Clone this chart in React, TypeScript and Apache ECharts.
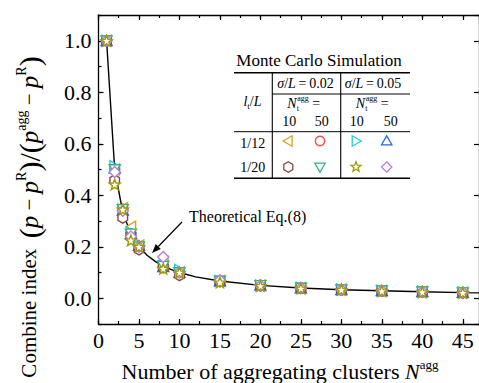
import React, { useEffect, useRef } from "react";
import * as echarts from "echarts";

const SERIF = '"Liberation Serif", "Times New Roman", Times, serif';

// ---- axes ----
const xMin = 0;
const xMax = 47;
const xMajor = 5;
const xMinor = 2.5;
const yMin = -0.1;
const yMax = 1.1;
const yMinor = 0.1;

// ---- data ----
const clusterCounts = [1, 2, 3, 4, 5, 8, 10, 15, 20, 25, 30, 35, 40, 45];
const theoryCounts = [1, 2, 3, 4, 5, 6, 7, 8, 9, 10, 12, 15, 20, 25, 30, 35, 40, 45, 47];
const theoryIndex = [1.0, 0.5, 0.333, 0.25, 0.2, 0.167, 0.143, 0.125, 0.111, 0.1, 0.083, 0.067, 0.05, 0.04, 0.033, 0.029, 0.025, 0.022, 0.021];

const l12s002n10 = [1.0, 0.5, 0.35, 0.278, 0.205, 0.142, 0.1, 0.067, 0.05, 0.04, 0.034, 0.029, 0.025, 0.022];
const l12s002n50 = [1.0, 0.5, 0.345, 0.25, 0.2, 0.125, 0.1, 0.067, 0.05, 0.04, 0.033, 0.029, 0.025, 0.022];
const l12s005n10 = [1.0, 0.513, 0.345, 0.255, 0.21, 0.125, 0.11, 0.067, 0.05, 0.041, 0.034, 0.029, 0.026, 0.023];
const l12s005n50 = [1.0, 0.505, 0.342, 0.25, 0.205, 0.122, 0.1, 0.067, 0.05, 0.04, 0.033, 0.029, 0.025, 0.022];
const l20s002n10 = [1.0, 0.458, 0.313, 0.245, 0.19, 0.12, 0.09, 0.065, 0.049, 0.039, 0.033, 0.028, 0.025, 0.021];
const l20s002n50 = [1.0, 0.5, 0.345, 0.25, 0.2, 0.125, 0.1, 0.067, 0.05, 0.04, 0.033, 0.029, 0.025, 0.022];
const l20s005n10 = [1.0, 0.442, 0.345, 0.225, 0.2, 0.115, 0.1, 0.062, 0.048, 0.038, 0.033, 0.028, 0.024, 0.021];
const l20s005n50 = [1.0, 0.49, 0.34, 0.24, 0.2, 0.16, 0.1, 0.07, 0.05, 0.04, 0.033, 0.029, 0.025, 0.022];

// ---- table labels ----
const tableTitle = "Monte Carlo Simulation";
const sigmaLabels = ["0.02", "0.05"];
const nAggLabels = ["10", "50"];
const ltLabels = ["1/12", "1/20"];
const annotationLabel = "Theoretical Eq.(8)";

// ---- marker shapes (unit coordinates) ----
type Pt = [number, number];
const SHAPES: Record<string, Pt[]> = {
  triLeft: [[-1, 0], [0.73, -1], [0.73, 1]],
  triRight: [[1, 0], [-0.73, -1], [-0.73, 1]],
  triUp: [[0, -1], [1, 0.73], [-1, 0.73]],
  triDown: [[0, 1], [1, -0.73], [-1, -0.73]],
  hexagon: [[0, -1], [0.866, -0.5], [0.866, 0.5], [0, 1], [-0.866, 0.5], [-0.866, -0.5]],
  star: [[0, -1], [0.247, -0.34], [0.951, -0.309], [0.399, 0.13], [0.588, 0.809], [0, 0.42], [-0.588, 0.809], [-0.399, 0.13], [-0.951, -0.309], [-0.247, -0.34]],
  diamond: [[0, -1], [1, 0], [0, 1], [-1, 0]],
};

const toPath = (pts: Pt[]) =>
  "path://M" + pts.map((p) => `${p[0]},${p[1]}`).join("L") + "Z";

const markers = [
  { name: "l12 s0.02 N10", color: "#DBA11C", shape: "triLeft", values: l12s002n10, row: 0, col: 0 },
  { name: "l12 s0.02 N50", color: "#FF4747", shape: "circle", values: l12s002n50, row: 0, col: 1 },
  { name: "l12 s0.05 N10", color: "#22CCDD", shape: "triRight", values: l12s005n10, row: 0, col: 2 },
  { name: "l12 s0.05 N50", color: "#2266EE", shape: "triUp", values: l12s005n50, row: 0, col: 3 },
  { name: "l20 s0.02 N10", color: "#864848", shape: "hexagon", values: l20s002n10, row: 1, col: 0 },
  { name: "l20 s0.02 N50", color: "#33B27A", shape: "triDown", values: l20s002n50, row: 1, col: 1 },
  { name: "l20 s0.05 N50", color: "#B77CF0", shape: "diamond", values: l20s005n50, row: 1, col: 3 },
  { name: "l20 s0.05 N10", color: "#A09A00", shape: "star", values: l20s005n10, row: 1, col: 2 },
];

const txt = (x: number, y: number, text: string, extra: any = {}) => ({
  type: "text",
  x,
  y,
  silent: true,
  style: {
    text,
    fill: "#000",
    fontFamily: SERIF,
    fontSize: 14,
    align: "center",
    verticalAlign: "middle",
    ...extra,
  },
});

const seg = (x1: number, y1: number, x2: number, y2: number, w: number) => ({
  type: "line",
  silent: true,
  shape: { x1, y1, x2, y2 },
  style: { stroke: "#000", lineWidth: w },
});

const legendMarker = (shape: string, color: string, cx: number, cy: number) => {
  const style = { fill: "#fff", stroke: color, lineWidth: 1.3 };
  if (shape === "circle") {
    return { type: "circle", silent: true, shape: { cx, cy, r: 4.7 }, style };
  }
  const r = 5.2;
  return {
    type: "polygon",
    silent: true,
    shape: { points: SHAPES[shape].map((p) => [cx + p[0] * r, cy + p[1] * r]) },
    style,
  };
};

function buildGraphic() {
  const g: any[] = [];
  const L = 234, R = 410, V1 = 272.3, V2 = 340.7;
  const T = 72.7, M1 = 94, M2 = 131.7, B = 178.3;
  g.push(txt(319, 60, tableTitle, { fontSize: 17 }));
  g.push(seg(L, T, R, T, 1.6));
  g.push(seg(V1, T, V1, B, 1.1));
  g.push(seg(V2, T, V2, B, 1.1));
  g.push(seg(V1, M1, R, M1, 1));
  g.push(seg(L, M2, R, M2, 1));
  g.push(seg(L, B, R, B, 1.6));

  const richT = {
    n: { fontFamily: SERIF, fontSize: 14, lineHeight: 18 },
    i: { fontFamily: SERIF, fontSize: 14, fontStyle: "italic", lineHeight: 18 },
    sub: { fontFamily: SERIF, fontSize: 9, lineHeight: 9, verticalAlign: "bottom" },
  };
  const colW = V2 - V1;
  sigmaLabels.forEach((s, k) => {
    g.push(txt(305.5 + k * 67.5, 83, `{i|σ}{n|/}{i|L}{n|\u2009=\u2009${s}}`, { rich: richT }));
    // N_t^agg =
    const nx = 287.3 + k * colW;
    g.push(txt(nx, 103, "N", { fontStyle: "italic", align: "left" }));
    g.push(txt(nx + 10, 98.5, "agg", { fontSize: 8, align: "left" }));
    g.push(txt(nx + 9.5, 108.5, "t", { fontSize: 8, align: "left" }));
    g.push(txt(nx + 29, 103, "=", {}));
  });
  g.push(txt(252.5, 101.5, "{i|l}{sub|t}{n|/}{i|L}", { rich: richT }));
  const numX = [289.3, 321.7, 356.7, 390.7];
  numX.forEach((x, k) => g.push(txt(x, 121.5, nAggLabels[k % 2])));
  g.push(txt(252.7, 143.5, ltLabels[0]));
  g.push(txt(252.7, 167, ltLabels[1]));
  const mX = [288.3, 320, 356, 386.7];
  const mY = [141, 167];
  markers.forEach((m) => g.push(legendMarker(m.shape, m.color, mX[m.col], mY[m.row])));

  // annotation
  g.push(txt(189, 216, annotationLabel, { fontSize: 16, align: "left" }));
  g.push(seg(182, 222, 158.3, 246.5, 1.2));
  g.push({
    type: "polygon",
    silent: true,
    shape: { points: [[152, 253], [160.8, 248.9], [155.8, 244.1]] },
    style: { fill: "#000" },
  });

  // axis names
  g.push({
    type: "text",
    x: 280,
    y: 371,
    silent: true,
    style: {
      text: "{n|Number of aggregating clusters }{i|N}{s|agg}",
      fill: "#000",
      align: "center",
      verticalAlign: "middle",
      rich: {
        n: { fontFamily: SERIF, fontSize: 22, lineHeight: 26 },
        i: { fontFamily: SERIF, fontSize: 22, fontStyle: "italic", lineHeight: 26 },
        s: { fontFamily: SERIF, fontSize: 13, lineHeight: 13, verticalAlign: "top" },
      },
    },
  });
  g.push({
    type: "text",
    x: 29,
    y: 217,
    rotation: Math.PI / 2,
    silent: true,
    style: {
      text:
        "{n|Combine index  }{b|(}{i|p}{n| − }{i|p}{s|R}{b|)}{b|/}{b|(}{i|p}{s|agg}{n| − }{i|p}{s|R}{b|)}",
      fill: "#000",
      align: "center",
      verticalAlign: "middle",
      rich: {
        n: { fontFamily: SERIF, fontSize: 21, lineHeight: 30 },
        i: { fontFamily: SERIF, fontSize: 25, fontStyle: "italic", lineHeight: 30 },
        b: { fontFamily: SERIF, fontSize: 30, lineHeight: 30 },
        s: { fontFamily: SERIF, fontSize: 14, lineHeight: 14, verticalAlign: "top" },
      },
    },
  });
  return g;
}

export default function App() {
  const ref = useRef<HTMLDivElement>(null);
  useEffect(() => {
    if (!ref.current) return;
    const chart = echarts.init(ref.current, null, { renderer: "svg" });
    const axisLineStyle = { color: "#000", width: 1.3 };
    const tickStyle = { color: "#000", width: 1.2 };
    const baseX = {
      type: "value",
      min: xMin,
      max: xMax,
      splitLine: { show: false },
    };
    const baseY = {
      type: "value",
      min: yMin,
      max: yMax,
      splitLine: { show: false },
    };
    const option: any = {
      animation: false,
      grid: { left: 98.5, top: 15, width: 383.5, height: 309, containLabel: false },
      xAxis: [
        {
          ...baseX,
          position: "bottom",
          interval: xMajor,
          axisLine: { show: true, onZero: false, lineStyle: axisLineStyle },
          axisTick: { inside: true, length: 5, lineStyle: tickStyle },
          axisLabel: {
            color: "#000",
            fontFamily: SERIF,
            fontSize: 22,
            margin: 5,
            showMaxLabel: false,
            formatter: (v: number) => (v % xMajor === 0 && v < xMax ? String(v) : ""),
          },
        },
        {
          ...baseX,
          position: "bottom",
          interval: xMinor,
          axisLine: { show: false, onZero: false },
          axisTick: { inside: true, length: 3, lineStyle: tickStyle },
          axisLabel: { show: false },
        },
        {
          ...baseX,
          position: "top",
          interval: xMajor,
          axisLine: { show: true, onZero: false, lineStyle: axisLineStyle },
          axisTick: { inside: true, length: 5, lineStyle: tickStyle },
          axisLabel: { show: false },
        },
        {
          ...baseX,
          position: "top",
          interval: xMinor,
          axisLine: { show: false, onZero: false },
          axisTick: { inside: true, length: 3, lineStyle: tickStyle },
          axisLabel: { show: false },
        },
      ],
      yAxis: [
        {
          ...baseY,
          position: "left",
          interval: yMinor,
          axisLine: { show: true, onZero: false, lineStyle: axisLineStyle },
          axisTick: { inside: true, length: 3, lineStyle: tickStyle },
          axisLabel: { show: false },
        },
        {
          ...baseY,
          position: "left",
          splitNumber: 6,
          minInterval: 0.2,
          maxInterval: 0.2,
          axisLine: { show: false, onZero: false },
          axisTick: { inside: true, length: 5, lineStyle: tickStyle },
          axisLabel: {
            color: "#000",
            fontFamily: SERIF,
            fontSize: 22,
            margin: 7,
            showMinLabel: false,
            showMaxLabel: false,
            formatter: (v: number) =>
              v < -0.05 || v > 1.05 ? "" : v.toFixed(1),
          },
        },
        {
          ...baseY,
          position: "right",
          splitNumber: 6,
          minInterval: 0.2,
          maxInterval: 0.2,
          axisLine: { show: true, onZero: false, lineStyle: axisLineStyle },
          axisTick: { inside: true, length: 5, lineStyle: tickStyle },
          axisLabel: { show: false },
        },
      ],
      series: [
        {
          name: "Theoretical Eq.(8)",
          type: "line",
          xAxisIndex: 0,
          yAxisIndex: 0,
          data: theoryCounts.map((n, i) => [n, theoryIndex[i]]),
          showSymbol: false,
          symbol: "none",
          lineStyle: { color: "#000", width: 1.4 },
          z: 2,
        },
        ...markers.map((m) => ({
          name: m.name,
          type: "scatter",
          xAxisIndex: 0,
          yAxisIndex: 0,
          data: clusterCounts.map((n, i) => [n, m.values[i]]),
          symbol: m.shape === "circle" ? "circle" : toPath(SHAPES[m.shape]),
          symbolKeepAspect: true,
          symbolSize: m.shape === "circle" ? 10 : 11,
          itemStyle: { color: "#fff", borderColor: m.color, borderWidth: 1.4, opacity: 1 },
          z: 3,
        })),
      ],
      graphic: buildGraphic(),
    };
    chart.setOption(option);
    return () => chart.dispose();
  }, []);
  return (
    <div
      ref={ref}
      style={{ position: "absolute", left: 0, top: 0, width: 479, height: 383 }}
    />
  );
}
